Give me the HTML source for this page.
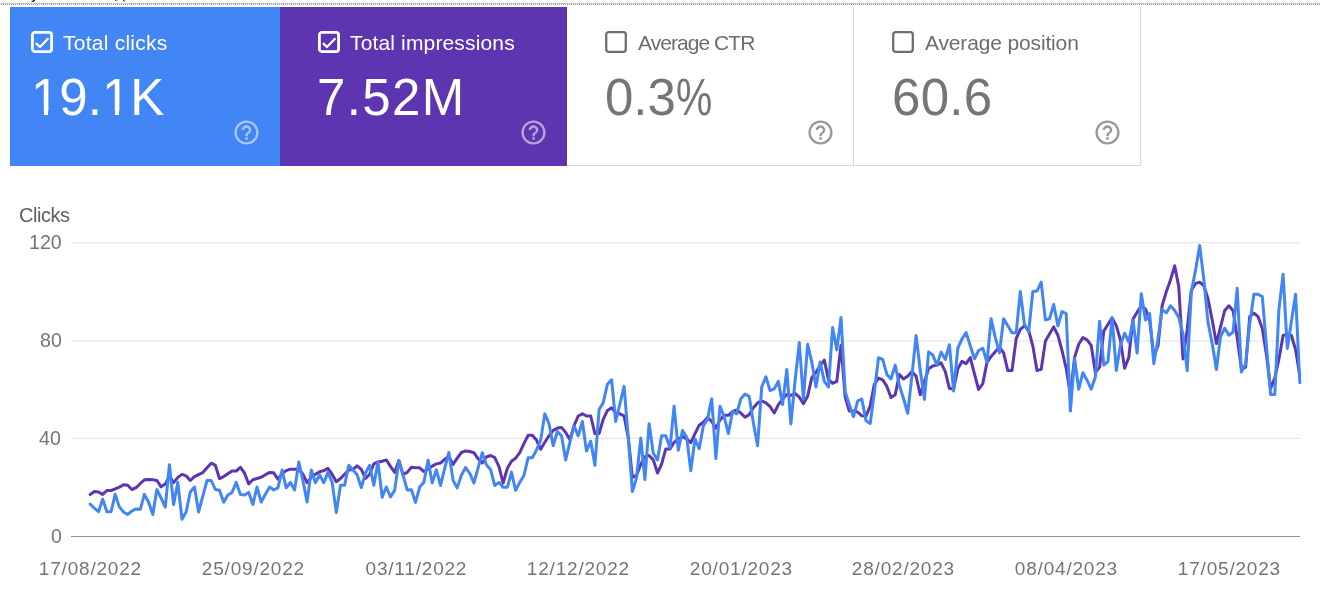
<!DOCTYPE html>
<html><head><meta charset="utf-8">
<style>
html,body{margin:0;padding:0;background:#fff;width:1320px;height:593px;overflow:hidden;position:relative;font-family:"Liberation Sans",sans-serif;}
.abs{position:absolute;}
.hl1{position:absolute;left:0;top:3px;width:1320px;height:1px;background:#c8c8c8;}
.hl2{position:absolute;left:0;top:4px;width:1320px;height:1px;background:repeating-linear-gradient(90deg,#fff 0,#fff 1px,#9a9a9a 1px,#9a9a9a 2px);}
.card{position:absolute;top:7px;height:159px;box-sizing:border-box;}
.lbl{position:absolute;will-change:transform;font-size:21px;white-space:nowrap;line-height:1;}
.big{position:absolute;will-change:transform;font-size:51px;white-space:nowrap;line-height:1;}
.cb{position:absolute;width:22px;height:22px;margin:0.4px 0 0 0.3px;}
.help{position:absolute;width:29px;height:29px;}
.dl{width:140px;text-align:center;letter-spacing:0.8px;text-indent:0.8px;}
.ax{position:absolute;will-change:transform;font-size:19px;color:#757575;white-space:nowrap;line-height:1;}
</style></head><body>
<div class="hl1"></div><div class="hl2"></div>
<svg class="abs" style="left:0;top:0" width="140" height="3"><path d="M33 0 L35.2 0 Q34.6 1.9 32.6 2 L31.2 1.7 L31.6 0.9 Q33 1 33 0 Z" fill="#222"/><rect x="115" y="0" width="1.6" height="0.8" fill="#333"/><rect x="123" y="0" width="1.6" height="1.3" fill="#333"/></svg>

<!-- card 1 -->
<div class="card" style="left:10px;width:270px;background:#4285f4;"></div>
<svg class="cb" style="left:31px;top:31px" viewBox="0 0 22 22"><rect x="1.4" y="1.4" width="19.2" height="19.2" rx="2.5" fill="none" stroke="#fff" stroke-width="2.8"/><path d="M4.9 12.1 L9 16 L17.4 7.3" fill="none" stroke="#fff" stroke-width="2.3"/></svg>
<div class="lbl" style="left:63px;top:31.6px;color:#fff;letter-spacing:0.25px">Total clicks</div>
<div class="big" style="left:31px;top:71.5px;color:#fff">19.1K</div>
<div class="abs" style="left:34px;top:110.6px;width:9.6px;height:5px;background:#4285f4"></div>
<div class="abs" style="left:48.4px;top:110.6px;width:9px;height:5px;background:#4285f4"></div>
<div class="abs" style="left:105px;top:110.6px;width:9.6px;height:5px;background:#4285f4"></div>
<div class="abs" style="left:119.4px;top:110.6px;width:9px;height:5px;background:#4285f4"></div>
<svg class="help" style="left:232px;top:118px" viewBox="0 0 24 24"><path fill="rgba(255,255,255,0.55)" d="M11 18h2v-2h-2v2zm1-16C6.48 2 2 6.48 2 12s4.48 10 10 10 10-4.48 10-10S17.52 2 12 2zm0 18c-4.41 0-8-3.590-8-8s3.59-8 8-8 8 3.59 8 8-3.59 8-8 8zm0-14c-2.21 0-4 1.790-4 4h2c0-1.1.9-2 2-2s2 .9 2 2c0 2-3 1.75-3 5h2c0-2.25 3-2.5 3-5 0-2.21-1.79-4-4-4z"/></svg>

<!-- card 2 -->
<div class="card" style="left:280px;width:287px;background:#5e35b1;"></div>
<svg class="cb" style="left:318px;top:31px" viewBox="0 0 22 22"><rect x="1.4" y="1.4" width="19.2" height="19.2" rx="2.5" fill="none" stroke="#fff" stroke-width="2.8"/><path d="M4.9 12.1 L9 16 L17.4 7.3" fill="none" stroke="#fff" stroke-width="2.3"/></svg>
<div class="lbl" style="left:350px;top:31.6px;color:#fff;letter-spacing:0.15px">Total impressions</div>
<div class="big" style="left:317px;top:71.5px;color:#fff;letter-spacing:1.4px">7.52M</div>
<svg class="help" style="left:519px;top:118px" viewBox="0 0 24 24"><path fill="rgba(255,255,255,0.55)" d="M11 18h2v-2h-2v2zm1-16C6.48 2 2 6.480 2 12s4.48 10 10 10 10-4.48 10-10S17.52 2 12 2zm0 18c-4.41 0-8-3.59-8-8s3.59-8 8-8 8 3.59 8 8-3.59 8-8 8zm0-14c-2.21 0-4 1.79-4 4h2c0-1.1.9-2 2-2s2 .9 2 2c0 2-3 1.75-3 5h2c0-2.25 3-2.5 3-5 0-2.21-1.79-4-4-4z"/></svg>

<!-- card 3 -->
<div class="card" style="left:567px;width:287px;border-right:1px solid #dadada;border-bottom:1px solid #dadada;height:159px;"></div>
<svg class="cb" style="left:605px;top:31px" viewBox="0 0 22 22"><rect x="1.2" y="1.2" width="19.6" height="19.6" rx="2.5" fill="none" stroke="#6f6f6f" stroke-width="2.3"/></svg>
<div class="lbl" style="left:638px;top:31.6px;color:#6d6d6d;letter-spacing:-0.95px">Average CTR</div>
<div class="big" style="left:605px;top:71.5px;color:#757575">0.3<span style="display:inline-block;transform:scaleX(0.8);transform-origin:0 0">%</span></div>
<svg class="help" style="left:806px;top:118px" viewBox="0 0 24 24"><path fill="#989898" d="M11 18h2v-2h-2v2zm1-16C6.48 2 2 6.48 2 12s4.48 10 10 10 10-4.48 10-10S17.52 2 12 2zm0 18c-4.41 0-8-3.59-8-8s3.59-8 8-8 8 3.59 8 8-3.59 8-8 8zm0-14c-2.21 0-4 1.79-4 4h2c0-1.1.9-2 2-2s2 .9 2 2c0 2-3 1.75-3 5h2c0-2.25 3-2.5 3-5 0-2.21-1.79-4-4-4z"/></svg>

<!-- card 4 -->
<div class="card" style="left:854px;width:287px;border-right:1px solid #dadada;border-bottom:1px solid #dadada;"></div>
<svg class="cb" style="left:892px;top:31px" viewBox="0 0 22 22"><rect x="1.2" y="1.2" width="19.6" height="19.6" rx="2.5" fill="none" stroke="#6f6f6f" stroke-width="2.3"/></svg>
<div class="lbl" style="left:924.5px;top:31.6px;color:#6d6d6d;letter-spacing:-0.15px">Average position</div>
<div class="big" style="left:891.5px;top:71.5px;color:#757575;letter-spacing:0.3px">60.6</div>
<svg class="help" style="left:1093px;top:118px" viewBox="0 0 24 24"><path fill="#989898" d="M11 18h2v-2h-2v2zm1-16C6.48 2 2 6.48 2 12s4.48 10 10 10 10-4.48 10-10S17.52 2 12 2zm0 18c-4.41 0-8-3.59-8-8s3.59-8 8-8 8 3.59 8 8-3.59 8-8 8zm0-14c-2.21 0-4 1.79-4 4h2c0-1.1.9-2 2-2s2 .9 2 2c0 2-3 1.75-3 5h2c0-2.25 3-2.5 3-5 0-2.21-1.79-4-4-4z"/></svg>

<!-- chart labels -->
<div class="ax" style="left:18.8px;top:205px;color:#616161;font-size:20px;letter-spacing:-0.45px">Clicks</div>
<div class="ax" style="left:29.4px;top:233.1px;font-size:19.6px">120</div>
<div class="ax" style="left:39.6px;top:330.6px;font-size:19.6px">80</div>
<div class="ax" style="left:39.4px;top:428.9px;font-size:19.6px">40</div>
<div class="ax" style="left:50.6px;top:527.2px;font-size:19.6px">0</div>

<svg class="abs" style="left:0;top:0" width="1320" height="593">
<g stroke="#e0e0e0" stroke-width="1">
<line x1="71" y1="242.8" x2="1300" y2="242.8"/>
<line x1="71" y1="341" x2="1300" y2="341"/>
<line x1="71" y1="438.3" x2="1300" y2="438.3"/>
</g>
<line x1="71" y1="536.5" x2="1300" y2="536.5" stroke="#919191" stroke-width="1" shape-rendering="crispEdges"/>
<!--LINES-->
<polyline fill="none" stroke="#5e35b1" stroke-width="3" stroke-linejoin="round" stroke-linecap="round" points="90.2,494.4 94.4,491.6 98.5,492.0 102.7,494.4 106.9,490.5 111.1,490.5 115.2,488.9 119.4,487.1 123.6,484.7 127.7,485.3 131.9,489.5 136.1,487.7 140.3,483.5 144.4,479.8 148.6,479.5 152.8,479.8 156.9,480.5 161.1,486.8 165.3,484.1 169.4,476.2 173.6,482.6 177.8,477.4 182.0,474.4 186.1,475.8 190.3,480.5 194.5,476.6 198.6,474.6 202.8,472.6 207.0,467.7 211.2,463.2 215.3,465.3 219.5,478.6 223.7,476.6 227.8,473.8 232.0,471.0 236.2,471.0 240.4,467.3 244.5,473.0 248.7,483.9 252.9,479.7 257.0,478.5 261.2,477.3 265.4,474.8 269.6,472.4 273.7,472.8 277.9,479.1 282.1,473.6 286.2,470.6 290.4,469.2 294.6,469.2 298.8,469.2 302.9,474.2 307.1,482.7 311.3,477.3 315.4,474.2 319.6,471.8 323.8,470.6 327.9,468.4 332.1,474.2 336.3,481.8 340.5,478.5 344.6,474.2 348.8,470.0 353.0,469.4 357.1,465.8 361.3,469.4 365.5,478.5 369.7,474.2 373.8,463.9 378.0,461.9 382.2,461.2 386.3,459.9 390.5,466.4 394.7,472.4 398.9,460.6 403.0,474.4 407.2,472.4 411.4,467.3 415.5,467.8 419.7,467.8 423.9,471.5 428.1,469.0 432.2,466.1 436.4,463.9 440.6,463.0 444.7,459.3 448.9,456.4 453.1,464.4 457.2,458.1 461.4,452.5 465.6,450.9 469.8,451.5 473.9,452.7 478.1,458.8 482.3,463.0 486.4,457.0 490.6,455.5 494.8,457.6 499.0,466.7 503.1,483.0 507.3,468.5 511.5,461.2 515.6,458.2 519.8,452.7 524.0,443.4 528.2,435.3 532.3,435.3 536.5,440.1 540.7,449.3 544.8,442.3 549.0,435.8 553.2,430.3 557.4,428.1 561.5,427.4 565.7,432.5 569.9,439.7 574.0,425.9 578.2,416.0 582.4,413.8 586.5,416.0 590.7,416.0 594.9,433.6 599.1,433.6 603.2,419.3 607.4,410.5 611.6,407.7 615.7,412.7 619.9,413.8 624.1,416.0 628.3,437.9 632.4,477.4 636.6,475.2 640.8,464.2 644.9,456.6 649.1,455.5 653.3,459.9 657.5,473.0 661.6,464.2 665.8,448.9 670.0,448.9 674.1,442.4 678.3,439.0 682.5,436.6 686.7,438.9 690.8,442.7 695.0,433.6 699.2,425.2 703.3,422.2 707.5,417.6 711.7,421.4 715.9,428.2 720.0,419.9 724.2,415.3 728.4,415.3 732.5,411.6 736.7,410.0 740.9,413.1 745.0,417.2 749.2,414.6 753.4,407.8 757.6,402.9 761.7,400.9 765.9,402.8 770.1,406.5 774.2,413.0 778.4,404.6 782.6,399.1 786.8,394.4 790.9,395.3 795.1,393.5 799.3,397.2 803.4,403.7 807.6,396.3 811.8,377.7 816.0,372.2 820.1,365.7 824.3,360.1 828.5,379.6 832.6,383.3 836.8,381.4 841.0,345.3 845.2,397.2 849.3,411.1 853.5,411.1 857.7,412.0 861.8,415.8 866.0,416.1 870.2,405.9 874.3,384.6 878.5,378.1 882.7,379.9 886.9,386.4 891.0,397.6 895.2,394.8 899.4,374.4 903.5,379.0 907.7,376.2 911.9,371.6 916.1,376.2 920.2,394.8 924.4,381.8 928.6,368.8 932.7,366.0 936.9,365.1 941.1,362.9 945.3,371.6 949.4,388.3 953.6,389.2 957.8,368.8 961.9,361.4 966.1,363.6 970.3,357.6 974.5,374.2 978.6,389.5 982.8,383.6 987.0,362.3 991.1,356.4 995.3,351.7 999.5,347.0 1003.6,352.9 1007.8,370.6 1012.0,370.6 1016.2,338.7 1020.3,329.3 1024.5,325.8 1028.7,330.5 1032.8,345.8 1037.0,370.6 1041.2,369.4 1045.4,341.1 1049.5,334.0 1053.7,326.9 1057.9,335.2 1062.0,350.5 1066.2,368.3 1070.4,394.6 1074.6,357.4 1078.7,344.2 1082.9,337.6 1087.1,339.8 1091.2,345.3 1095.4,372.7 1099.6,367.2 1103.8,331.1 1107.9,324.5 1112.1,317.9 1116.3,325.6 1120.4,339.8 1124.6,368.3 1128.8,357.4 1133.0,319.0 1137.1,312.4 1141.3,305.8 1145.5,309.1 1149.6,320.1 1153.8,355.4 1158.0,346.0 1162.1,305.8 1166.3,291.7 1170.5,279.9 1174.7,265.7 1178.8,286.9 1183.0,358.9 1187.2,329.4 1191.3,290.5 1195.5,283.4 1199.7,282.2 1203.9,285.8 1208.0,298.7 1212.2,320.0 1216.4,343.6 1220.5,327.1 1224.7,310.5 1228.9,305.8 1233.1,310.8 1237.2,337.9 1241.4,368.6 1245.6,367.4 1249.7,316.7 1253.9,313.1 1258.1,316.7 1262.3,328.5 1266.4,354.4 1270.6,388.7 1274.8,378.0 1278.9,359.2 1283.1,335.5 1287.3,334.4 1291.4,335.5 1295.6,349.7 1299.8,375.7"/>
<polyline fill="none" stroke="#4285f4" stroke-width="3" stroke-linejoin="round" stroke-linecap="round" points="90.2,504.1 94.4,508.3 98.5,511.7 102.7,499.2 106.9,511.7 111.1,511.7 115.2,494.4 119.4,507.1 123.6,512.0 127.7,514.4 131.9,511.0 136.1,508.9 140.3,509.3 144.4,494.4 148.6,502.3 152.8,514.4 156.9,489.5 161.1,498.0 165.3,507.1 169.4,464.7 173.6,504.7 177.8,482.3 182.0,519.2 186.1,512.0 190.3,492.0 194.5,487.1 198.6,512.0 202.8,496.2 207.0,480.5 211.2,480.5 215.3,489.5 219.5,490.2 223.7,502.3 227.8,495.0 232.0,492.6 236.2,482.3 240.4,494.6 244.5,495.1 248.7,492.4 252.9,504.5 257.0,487.0 261.2,502.1 265.4,494.2 269.6,487.0 273.7,490.0 277.9,487.8 282.1,470.0 286.2,487.8 290.4,482.5 294.6,490.0 298.8,462.1 302.9,480.3 307.1,502.1 311.3,470.0 315.4,482.7 319.6,474.8 323.8,482.7 327.9,472.4 332.1,482.1 336.3,512.4 340.5,485.2 344.6,485.2 348.8,465.2 353.0,470.0 357.1,474.8 361.3,487.6 365.5,473.0 369.7,465.2 373.8,485.2 378.0,462.1 382.2,497.3 386.3,487.0 390.5,497.0 394.7,490.1 398.9,460.6 403.0,475.2 407.2,489.9 411.4,489.7 415.5,502.4 419.7,487.0 423.9,482.2 428.1,460.1 432.2,482.9 436.4,469.8 440.6,485.5 444.7,468.1 448.9,452.5 453.1,480.4 457.2,487.9 461.4,475.2 465.6,467.6 469.8,473.3 473.9,483.0 478.1,467.9 482.3,452.7 486.4,464.8 490.6,469.7 494.8,485.5 499.0,482.4 503.1,487.3 507.3,487.3 511.5,472.1 515.6,490.3 519.8,482.4 524.0,475.2 528.2,457.7 532.3,457.7 536.5,450.0 540.7,440.1 544.8,413.8 549.0,423.7 553.2,445.6 557.4,431.4 561.5,435.8 565.7,459.9 569.9,442.3 574.0,425.9 578.2,435.8 582.4,421.5 586.5,451.1 590.7,441.2 594.9,465.3 599.1,409.5 603.2,402.9 607.4,384.2 611.6,379.9 615.7,421.5 619.9,404.0 624.1,386.4 628.3,437.9 632.4,491.6 636.6,477.4 640.8,437.9 644.9,479.6 649.1,423.7 653.3,453.3 657.5,459.9 661.6,435.8 665.8,435.8 670.0,447.8 674.1,406.2 678.3,450.3 682.5,430.5 686.7,437.4 690.8,470.7 695.0,438.9 699.2,448.7 703.3,426.0 707.5,419.1 711.7,398.7 715.9,458.6 720.0,406.2 724.2,416.9 728.4,433.6 732.5,411.6 736.7,413.8 740.9,398.7 745.0,394.1 749.2,396.4 753.4,422.9 757.6,445.7 761.7,387.0 765.9,376.8 770.1,390.7 774.2,388.8 778.4,381.4 782.6,404.6 786.8,369.4 790.9,423.9 795.1,380.5 799.3,342.5 803.4,399.1 807.6,344.3 811.8,361.9 816.0,387.0 820.1,361.9 824.3,381.4 828.5,387.0 832.6,327.6 836.8,349.9 841.0,317.4 845.2,391.6 849.3,404.6 853.5,416.7 857.7,400.9 861.8,399.1 866.0,420.8 870.2,423.5 874.3,392.9 878.5,357.7 882.7,359.5 886.9,374.4 891.0,379.0 895.2,365.1 899.4,385.5 903.5,398.5 907.7,413.3 911.9,376.2 916.1,335.4 920.2,369.7 924.4,399.4 928.6,352.1 932.7,354.9 936.9,365.1 941.1,352.1 945.3,359.5 949.4,344.7 953.6,391.1 957.8,348.4 961.9,339.1 966.1,332.6 970.3,345.8 974.5,358.8 978.6,350.5 982.8,348.2 987.0,362.3 991.1,318.7 995.3,337.6 999.5,352.9 1003.6,318.7 1007.8,325.8 1012.0,332.8 1016.2,332.8 1020.3,291.5 1024.5,324.6 1028.7,331.7 1032.8,291.5 1037.0,291.1 1041.2,282.1 1045.4,319.9 1049.5,318.7 1053.7,304.5 1057.9,325.8 1062.0,311.6 1066.2,313.5 1070.4,411.1 1074.6,358.5 1078.7,389.2 1082.9,372.7 1087.1,380.4 1091.2,389.2 1095.4,377.1 1099.6,321.2 1103.8,365.0 1107.9,361.8 1112.1,317.9 1116.3,370.5 1120.4,345.3 1124.6,333.2 1128.8,342.0 1133.0,320.1 1137.1,353.0 1141.3,293.8 1145.5,320.1 1149.6,313.5 1153.8,363.7 1158.0,338.9 1162.1,309.4 1166.3,312.9 1170.5,305.8 1174.7,310.5 1178.8,317.6 1183.0,334.2 1187.2,370.7 1191.3,291.7 1195.5,270.4 1199.7,245.6 1203.9,279.9 1208.0,322.3 1212.2,343.6 1216.4,369.6 1220.5,336.5 1224.7,328.2 1228.9,335.3 1233.1,332.0 1237.2,288.3 1241.4,372.1 1245.6,363.9 1249.7,323.7 1253.9,294.2 1258.1,294.2 1262.3,296.6 1266.4,345.0 1270.6,394.6 1274.8,394.6 1278.9,309.6 1283.1,274.2 1287.3,348.5 1291.4,321.4 1295.6,294.2 1299.8,382.8"/>
<!--/LINES-->
</svg>

<div class="ax dl" style="left:20.45px;top:559px">17/08/2022</div>
<div class="ax dl" style="left:183.05px;top:559px">25/09/2022</div>
<div class="ax dl" style="left:345.65px;top:559px">03/11/2022</div>
<div class="ax dl" style="left:508.25px;top:559px">12/12/2022</div>
<div class="ax dl" style="left:670.85px;top:559px">20/01/2023</div>
<div class="ax dl" style="left:833.45px;top:559px">28/02/2023</div>
<div class="ax dl" style="left:996.05px;top:559px">08/04/2023</div>
<div class="ax dl" style="left:1158.65px;top:559px">17/05/2023</div>
</body></html>
